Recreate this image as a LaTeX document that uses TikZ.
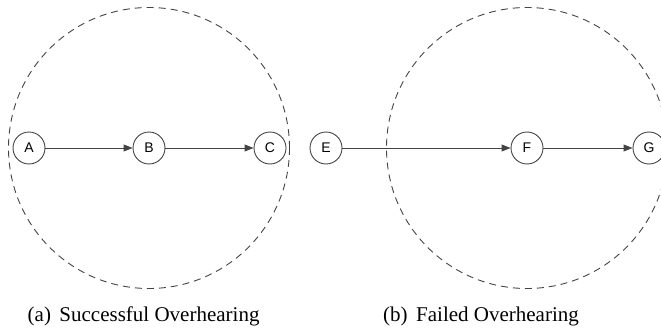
\documentclass[tikz,border=0pt]{standalone}
\usepackage{fontspec}
\setmainfont{Liberation Serif}
\newfontfamily\nodefont{Liberation Sans}
\usetikzlibrary{arrows.meta}
\definecolor{linegray}{HTML}{444444}
\tikzset{
  station/.style={circle,draw=linegray,line width=0.9pt,minimum size=32pt,inner sep=0pt,font=\nodefont\fontsize{14}{16}\selectfont},
  radiorange/.style={draw=linegray,line width=0.9pt,dash pattern=on 7pt off 5pt},
  link/.style={draw=linegray,line width=0.9pt,-{Triangle[length=9pt,width=7pt]}},
  caption/.style={anchor=base west,inner sep=0pt,font=\fontsize{21}{24}\selectfont}
}
\begin{document}
\begin{tikzpicture}[x=1pt,y=-1pt]
\useasboundingbox (0,0) rectangle (661,329);
\node[station] (A) at (29,148) {A};
\node[station] (B) at (149,148) {B};
\node[station] (C) at (270,148) {C};
\node[station] (E) at (326,148) {E};
\node[station] (F) at (527,148) {F};
\node[station] (G) at (649,148) {G};
\draw[radiorange] (B.center) circle[radius=140.5pt];
\draw[radiorange] (F.center) circle[radius=140.5pt];
\draw[link] (A) -- (B);
\draw[link] (B) -- (C);
\draw[link] (E) -- (F);
\draw[link] (F) -- (G);
\node[caption] (capa) at (27.5,321) {(a)\hspace{8.5pt}Successful Overhearing};
\node[caption] (capb) at (383,321) {(b)\hspace{8.5pt}Failed Overhearing};
\end{tikzpicture}
\end{document}
